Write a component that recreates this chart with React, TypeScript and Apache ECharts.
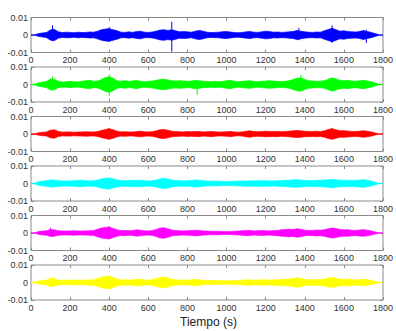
import React, { useEffect, useRef } from "react";
import * as echarts from "echarts";

// Envelope amplitude of each record (units of 0.001), sampled every 20 s from 0 to 1800 s
const sampleStep = 20;
const xTicks = [0, 200, 400, 600, 800, 1000, 1200, 1400, 1600, 1800];
const yTicks = [-0.01, 0, 0.01];

const blueAmp = [0, 0.2, 0.8, 1.2, 1.5, 3.0, 3.2, 1.8, 1.4, 1.6, 1.5, 1.3, 1.6, 1.4, 1.5, 1.7, 1.6, 2.2, 3.0, 3.4, 3.6, 3.0, 2.4, 1.6, 1.5, 1.8, 1.5, 2.0, 2.2, 1.6, 1.5, 1.7, 2.2, 2.8, 3.0, 2.6, 3.0, 2.4, 1.8, 2.0, 1.8, 1.6, 2.2, 2.6, 2.2, 1.6, 1.4, 1.5, 1.6, 1.9, 2.0, 1.7, 1.4, 1.3, 1.5, 1.8, 2.0, 1.6, 1.5, 1.8, 2.2, 2.0, 1.6, 1.7, 1.5, 1.6, 1.8, 2.0, 2.6, 2.2, 1.8, 1.6, 1.5, 1.7, 1.6, 2.4, 3.2, 3.8, 3.0, 2.2, 2.4, 2.0, 1.8, 1.7, 2.0, 2.6, 2.0, 1.5, 0.8, 0.1, 0];
const greenAmp = [0, 0.3, 1.0, 1.4, 1.8, 3.2, 3.0, 1.8, 1.5, 1.6, 1.8, 1.6, 1.5, 1.8, 2.2, 2.4, 1.8, 2.0, 2.8, 4.0, 4.4, 3.6, 2.2, 1.8, 2.2, 1.8, 2.0, 2.4, 1.8, 1.6, 1.8, 2.0, 2.4, 2.8, 3.0, 2.6, 2.2, 2.0, 2.2, 2.0, 1.8, 2.0, 2.4, 2.2, 1.8, 1.7, 1.6, 1.8, 1.6, 1.8, 2.2, 2.4, 1.8, 1.6, 1.8, 2.0, 2.2, 1.8, 1.6, 1.8, 2.0, 2.2, 2.0, 1.8, 1.7, 1.8, 2.2, 2.8, 3.6, 3.8, 2.8, 2.2, 2.0, 1.8, 1.9, 2.2, 3.0, 3.8, 3.2, 2.4, 2.2, 2.4, 2.0, 1.8, 2.2, 2.4, 2.0, 1.6, 0.8, 0.1, 0];
const redAmp = [0, 0.2, 0.7, 1.0, 1.2, 2.2, 2.4, 1.4, 1.1, 1.2, 1.2, 1.0, 1.1, 1.2, 1.3, 1.2, 1.1, 1.4, 2.0, 2.6, 3.0, 2.4, 1.6, 1.2, 1.3, 1.2, 1.1, 1.4, 1.6, 1.3, 1.2, 1.3, 1.8, 2.4, 2.6, 2.2, 1.6, 1.4, 1.3, 1.2, 1.4, 1.3, 1.4, 1.5, 1.2, 1.3, 1.5, 1.3, 1.1, 1.2, 1.3, 1.5, 1.2, 1.0, 1.2, 1.6, 1.8, 1.4, 1.3, 1.4, 1.6, 1.5, 1.4, 1.5, 1.3, 1.4, 1.6, 1.8, 2.0, 1.8, 1.6, 1.5, 1.4, 1.6, 1.4, 1.8, 2.6, 3.0, 2.4, 1.8, 1.9, 1.7, 1.5, 1.4, 1.6, 1.9, 1.6, 1.2, 0.6, 0.1, 0];
const cyanAmp = [0, 0.3, 1.0, 1.4, 1.6, 2.0, 2.0, 1.6, 1.5, 1.4, 1.5, 1.6, 1.8, 1.9, 1.6, 1.5, 1.6, 2.0, 2.6, 3.0, 3.2, 2.6, 2.0, 1.7, 1.6, 1.8, 1.7, 1.8, 1.9, 1.6, 1.5, 1.6, 2.0, 2.6, 3.0, 2.6, 2.0, 1.7, 1.6, 1.5, 1.6, 1.7, 2.0, 1.9, 1.6, 1.4, 1.3, 1.4, 1.3, 1.2, 1.2, 1.2, 1.3, 1.4, 1.4, 1.5, 1.6, 1.5, 1.6, 1.7, 1.6, 1.5, 1.4, 1.6, 1.7, 1.8, 1.9, 2.1, 2.2, 2.0, 1.8, 1.6, 1.7, 1.8, 1.9, 2.0, 2.2, 2.4, 2.2, 1.9, 1.8, 1.9, 1.7, 1.8, 2.0, 2.2, 1.9, 1.4, 0.7, 0.1, 0];
const magentaAmp = [0, 0.2, 0.8, 1.1, 1.3, 2.0, 1.8, 1.3, 1.2, 1.1, 1.2, 1.3, 1.2, 1.1, 1.2, 1.3, 1.4, 2.2, 2.8, 3.2, 3.4, 2.6, 1.8, 1.4, 1.5, 1.3, 1.4, 1.8, 1.6, 1.3, 1.2, 1.4, 2.0, 2.8, 3.0, 2.4, 1.7, 1.4, 1.3, 1.2, 1.3, 1.4, 1.6, 1.5, 1.2, 1.1, 1.0, 1.0, 1.0, 0.9, 0.9, 0.9, 1.0, 1.1, 1.3, 1.5, 1.4, 1.2, 1.3, 1.4, 1.3, 1.2, 1.4, 1.5, 1.8, 2.0, 2.2, 2.0, 2.4, 2.1, 1.6, 1.4, 1.5, 1.7, 1.6, 1.9, 2.4, 2.8, 2.6, 2.0, 1.8, 1.9, 1.6, 1.5, 1.7, 1.9, 1.6, 1.2, 0.6, 0.1, 0];
const yellowAmp = [0, 0.3, 0.9, 1.2, 1.4, 2.4, 2.0, 1.4, 1.2, 1.3, 1.4, 1.3, 1.4, 1.3, 1.4, 1.5, 1.6, 2.2, 3.0, 3.4, 3.6, 2.8, 2.0, 1.5, 1.6, 1.4, 1.5, 1.9, 1.8, 1.5, 1.4, 1.6, 2.2, 2.8, 3.2, 2.6, 1.9, 1.5, 1.4, 1.3, 1.4, 1.5, 1.8, 1.6, 1.3, 1.2, 1.1, 1.1, 1.1, 1.0, 1.0, 1.0, 1.1, 1.2, 1.3, 1.5, 1.6, 1.3, 1.4, 1.5, 1.6, 1.4, 1.5, 1.6, 1.7, 1.9, 2.0, 2.2, 2.8, 2.4, 1.8, 1.6, 1.6, 1.7, 1.6, 2.0, 2.6, 2.8, 2.4, 1.9, 1.8, 2.0, 1.6, 1.5, 1.7, 1.9, 1.6, 1.2, 0.6, 0.1, 0];

// Isolated peaks [time s, positive peak, negative peak]
const blueSpikes = [[110, 0.0055, -0.0035], [400, 0.0045, -0.004], [720, 0.0075, -0.0095], [1370, 0.004, -0.003], [1540, 0.0055, -0.0045], [1715, 0.003, -0.0045]];
const greenSpikes = [[110, 0.0045, -0.003], [400, 0.0058, -0.0065], [850, 0.002, -0.0058], [1380, 0.0055, -0.003]];
const redSpikes = [[400, 0.0035, -0.003], [1540, 0.0035, -0.003]];
const cyanSpikes = [[400, 0.0035, -0.003]];
const magentaSpikes = [[100, 0.003, -0.002], [400, 0.004, -0.0035]];
const yellowSpikes = [[110, 0.003, -0.002], [400, 0.004, -0.003]];

const records = [blueAmp, greenAmp, redAmp, cyanAmp, magentaAmp, yellowAmp];
const spikes = [blueSpikes, greenSpikes, redSpikes, cyanSpikes, magentaSpikes, yellowSpikes];
const colors = ["#0000ff", "#00ff00", "#ff0000", "#00ffff", "#ff00ff", "#ffff00"];
const xLabel = "Tiempo (s)";

const FONT = "'Liberation Sans', Arial, Helvetica, sans-serif";

export default function App() {
  const ref = useRef<HTMLDivElement>(null);
  useEffect(() => {
    if (!ref.current) return;
    const chart = echarts.init(ref.current, undefined, { renderer: "svg" });
    const grids: any[] = [];
    const xAxes: any[] = [];
    const yAxes: any[] = [];
    const series: any[] = [];
    const axisLineColor = "#8a8a8a";
    records.forEach((amp, i) => {
      grids.push({
        left: 31,
        width: 356,
        top: 17.5 + 49.5 * i,
        height: 35,
        show: true,
        borderColor: axisLineColor,
        borderWidth: 1,
        backgroundColor: "#ffffff",
      });
      const xBase = {
        type: "value",
        gridIndex: i,
        min: xTicks[0],
        max: xTicks[xTicks.length - 1],
        interval: xTicks[1] - xTicks[0],
        splitLine: { show: false },
        axisLine: { show: false, onZero: false },
        axisTick: { show: true, inside: true, length: 3, lineStyle: { color: axisLineColor } },
      };
      xAxes.push({
        ...xBase,
        position: "bottom",
        axisLabel: {
          show: true,
          fontSize: 9,
          color: "#333",
          margin: 3,
          fontFamily: FONT,
          formatter: (v: number) => String(v),
        },
      });
      xAxes.push({ ...xBase, position: "top", axisLabel: { show: false } });
      const yBase = {
        type: "value",
        gridIndex: i,
        min: yTicks[0],
        max: yTicks[yTicks.length - 1],
        interval: yTicks[1] - yTicks[0],
        splitLine: { show: false },
        axisLine: { show: false, onZero: false },
        axisTick: { show: true, inside: true, length: 3, lineStyle: { color: axisLineColor } },
      };
      yAxes.push({
        ...yBase,
        position: "left",
        axisLabel: {
          show: true,
          fontSize: 9,
          color: "#333",
          margin: 3,
          fontFamily: FONT,
          formatter: (v: number) => (Math.abs(v) < 1e-12 ? "0" : String(+v.toFixed(4))),
        },
      });
      yAxes.push({ ...yBase, position: "right", axisLabel: { show: false } });
      const color = colors[i];
      // Envelope band as one polygon
      series.push({
        type: "custom",
        xAxisIndex: 2 * i,
        yAxisIndex: 2 * i,
        data: [[0, 0]],
        silent: true,
        z: 2,
        renderItem: (_params: any, api: any) => {
          const up = amp.map((a, k) => api.coord([k * sampleStep, a * 1e-3]));
          const down = amp.map((a, k) => api.coord([k * sampleStep, -a * 1e-3])).reverse();
          return {
            type: "polygon",
            shape: { points: up.concat(down) },
            style: { fill: color, stroke: color, lineWidth: 0.7 },
          };
        },
      });
      // Isolated peaks
      series.push({
        type: "custom",
        xAxisIndex: 2 * i,
        yAxisIndex: 2 * i,
        data: spikes[i],
        silent: true,
        z: 3,
        renderItem: (_params: any, api: any) => {
          const p1 = api.coord([api.value(0), api.value(1)]);
          const p2 = api.coord([api.value(0), api.value(2)]);
          return {
            type: "line",
            shape: { x1: p1[0], y1: p1[1], x2: p2[0], y2: p2[1] },
            style: { stroke: color, lineWidth: 1 },
          };
        },
      });
    });
    chart.setOption({
      animation: false,
      backgroundColor: "#ffffff",
      grid: grids,
      xAxis: xAxes,
      yAxis: yAxes,
      series,
      graphic: [
        {
          type: "text",
          left: 180,
          top: 316,
          style: { text: xLabel, fontSize: 12, fontFamily: FONT, fill: "#222" },
        },
      ],
    });
    return () => chart.dispose();
  }, []);
  return (
    <div
      ref={ref}
      style={{ position: "fixed", left: 0, top: 0, width: 396, height: 331 }}
    />
  );
}
